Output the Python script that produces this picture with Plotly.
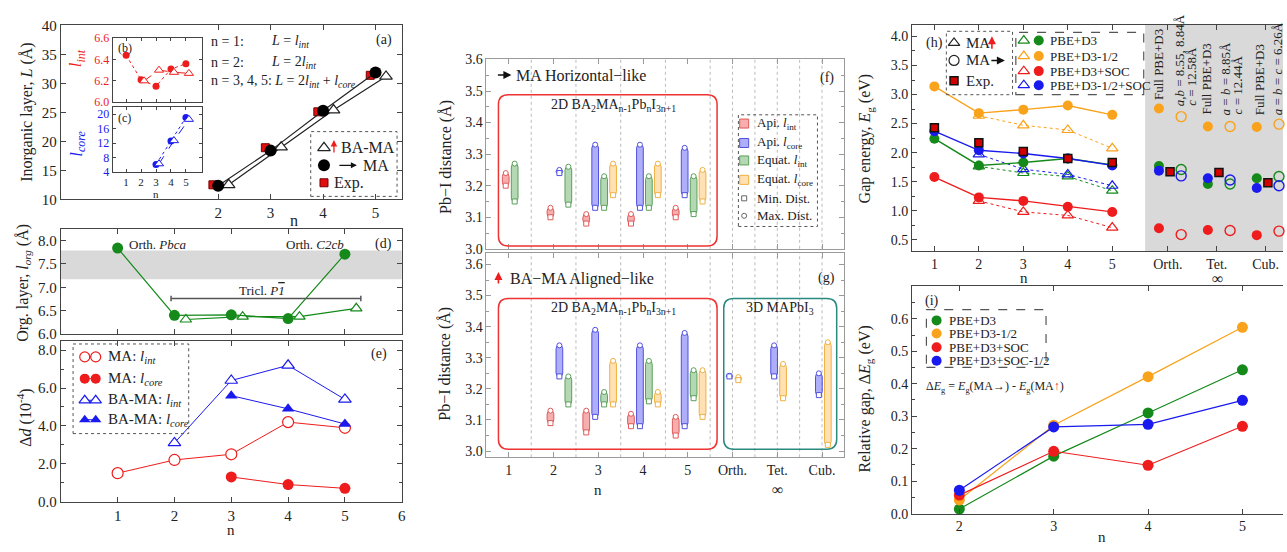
import plotly.graph_objects as go

W, H = 1287, 552
SERIF = "Liberation Serif, Times New Roman, serif"

# ===================== DATA =====================
# (a) inorganic layer thickness L (Å)
a_n = [2, 3, 4, 5]
a_L_ma = [12.35, 18.4, 25.3, 31.9]
a_L_bama = [12.5, 19.0, 25.4, 31.2]
a_L_exp = [12.5, 18.9, 25.1, 31.4]
# (b) l_int (Å)
b_n_ma = [1, 2, 3, 4, 5]
b_lint_ma = [6.44, 6.21, 6.15, 6.31, 6.36]
b_n_bama = [2, 3, 4, 5]
b_lint_bama = [6.20, 6.30, 6.28, 6.27]
# (c) l_core (Å)
c_n = [3, 4, 5]
c_lcore_ma = [6.1, 12.6, 19.1]
c_lcore_bama = [6.3, 12.7, 18.6]
# (d) organic layer l_org (Å)
d_n_ma = [1, 2, 3, 4, 5]
d_lorg_ma = [7.84, 6.40, 6.41, 6.33, 7.71]
d_n_bama = [2, 3, 4, 5]
d_lorg_bama = [6.31, 6.37, 6.37, 6.55]
d_band = [7.17, 7.79]
d_tricl_span = [1.94, 5.28]
d_tricl_level = 6.76
# (e) Δd (1e-4)
e_n_ma_int = [1, 2, 3, 4, 5]
e_ma_int = [1.5, 2.2, 2.5, 4.2, 3.9]
e_n_core = [3, 4, 5]
e_ma_core = [1.3, 0.9, 0.7]
e_n_bama_int = [2, 3, 4, 5]
e_bama_int = [3.1, 6.4, 7.2, 5.4]
e_bama_core = [5.6, 4.9, 4.1]
# (f)/(g) Pb–I distances (Å), min / max per category
pb_categories = ['1', '2', '3', '4', '5', 'Orth.', 'Tet.', 'Cub.']
f_api_int_min = [3.20, 3.10, 3.08, 3.08, 3.10, None, None, None]
f_api_int_max = [3.24, 3.13, 3.11, 3.11, 3.13, None, None, None]
f_api_core_min = [None, 3.24, 3.13, 3.13, 3.17, None, None, None]
f_api_core_max = [None, 3.25, 3.33, 3.33, 3.32, None, None, None]
f_eq_int_min = [3.15, 3.14, 3.13, 3.13, 3.11, None, None, None]
f_eq_int_max = [3.27, 3.26, 3.23, 3.23, 3.23, None, None, None]
f_eq_core_min = [None, None, 3.17, 3.17, 3.15, None, None, None]
f_eq_core_max = [None, None, 3.27, 3.27, 3.25, None, None, None]
g_api_int_min = [None, 3.09, 3.06, 3.08, 3.05, None, None, None]
g_api_int_max = [None, 3.13, 3.13, 3.12, 3.11, None, None, None]
g_api_core_min = [None, 3.24, 3.11, 3.08, 3.08, 3.240, 3.24, 3.18]
g_api_core_max = [None, 3.34, 3.39, 3.34, 3.38, 3.242, 3.34, 3.25]
g_eq_int_min = [None, 3.15, 3.15, 3.16, 3.17, None, None, None]
g_eq_int_max = [None, 3.24, 3.19, 3.29, 3.26, None, None, None]
g_eq_core_min = [None, None, 3.15, 3.15, 3.11, 3.228, 3.17, 3.02]
g_eq_core_max = [None, None, 3.29, 3.19, 3.26, 3.238, 3.28, 3.35]
# (h) band gaps (eV)
h_n = [1, 2, 3, 4, 5]
h_n_al = [2, 3, 4, 5]
h_pbe_hor = [2.24, 1.78, 1.83, 1.90, 1.79]
h_pbe_al = [1.765, 1.65, 1.59, 1.345]
h_half_hor = [3.14, 2.68, 2.74, 2.81, 2.65]
h_half_al = [2.635, 2.47, 2.39, 2.075]
h_soc_hor = [1.58, 1.23, 1.17, 1.07, 0.98]
h_soc_al = [1.17, 0.98, 0.92, 0.71]
h_halfsoc_hor = [2.37, 2.04, 1.985, 1.90, 1.78]
h_halfsoc_al = [1.97, 1.715, 1.625, 1.43]
h_exp = [2.43, 2.17, 2.02, 1.90, 1.83]
h_bulk = ['Orth.', 'Tet.', 'Cub.']
h3_pbe_full = [1.77, 1.46, 1.56]
h3_half_full = [2.76, 2.45, 2.44]
h3_soc_full = [0.70, 0.67, 0.58]
h3_halfsoc_full = [1.69, 1.56, 1.39]
h3_pbe_fix = [1.71, 1.46, 1.59]
h3_half_fix = [2.62, 2.45, 2.49]
h3_soc_fix = [0.59, 0.66, 0.65]
h3_halfsoc_fix = [1.60, 1.53, 1.43]
h3_exp = [1.67, 1.66, 1.48]
h3_lattice = [['Full PBE+D3', '<i>a</i>,<i>b</i> = 8.55, 8.84Å', '<i>c</i> = 12.58Å'],
              ['Full PBE+D3', '<i>a</i> = <i>b</i> = 8.85Å', '<i>c</i> = 12.44Å'],
              ['Full PBE+D3', '<i>a</i> = <i>b</i> = <i>c</i> = 6.26Å']]
# (i) relative gap (eV)
i_n = [2, 3, 4, 5]
i_pbe = [0.014, 0.177, 0.31, 0.443]
i_half = [0.042, 0.272, 0.422, 0.574]
i_soc = [0.057, 0.192, 0.149, 0.269]
i_halfsoc = [0.072, 0.267, 0.275, 0.349]

# ===================== STYLE / LAYOUT =====================
GREEN, ORANGE, RED, BLUE = '#15891a', '#f9a21b', '#ee1c1c', '#1a1aee'
AXC = '#444'
BULK_POS = [6.25, 7.35, 8.45]   # x positions of bulk phases in (h)


def X(p):
    return p / W


def Y(p):
    return 1 - p / H


def dx(a, b):
    return [a / W, b / W]


def dy(top, bot):
    return [1 - bot / H, 1 - top / H]


def axis(domain, rng, anchor, size=14, color='#222', line=AXC, mirror='ticks', **kw):
    d = dict(domain=domain, range=rng, anchor=anchor, showline=True, linecolor=line,
             linewidth=1, mirror=mirror, ticks='inside', ticklen=5, tickcolor=line,
             showgrid=False, zeroline=False,
             tickfont=dict(family=SERIF, size=size, color=color))
    d.update(kw)
    return d


traces = []


def sc(x, y, i, **kw):
    traces.append(go.Scatter(x=x, y=y, xaxis='x' if i == 1 else f'x{i}',
                             yaxis='y' if i == 1 else f'y{i}', showlegend=False,
                             hoverinfo='skip', cliponaxis=False, **kw))


def shift(xs, d):
    return [v + d for v in xs]


# ---- (a)
sc(shift(a_n, 0.2), a_L_bama, 1, mode='lines+markers', line=dict(color='#222', width=1.2),
   marker=dict(symbol='triangle-up', size=11, color='white', line=dict(color='#222', width=1.2)))
sc(shift(a_n, -0.1), a_L_exp, 1, mode='markers',
   marker=dict(symbol='square', size=8, color='#e01010', line=dict(color='#700', width=1)))
sc(a_n, a_L_ma, 1, mode='lines+markers', line=dict(color='#222', width=1.2),
   marker=dict(symbol='circle', size=12, color='black'))
# ---- (b)
sc(b_n_ma, b_lint_ma, 2, mode='lines+markers', line=dict(color=RED, width=1, dash='dot'),
   marker=dict(size=7, color=RED))
sc(shift(b_n_bama, 0.2), b_lint_bama, 2, mode='lines+markers', line=dict(color=RED, width=1, dash='dash'),
   marker=dict(symbol='triangle-up', size=8, color='white', line=dict(color=RED, width=1)))
# ---- (c)
sc(c_n, c_lcore_ma, 3, mode='lines+markers', line=dict(color=BLUE, width=1, dash='dot'),
   marker=dict(size=7, color=BLUE))
sc(shift(c_n, 0.2), c_lcore_bama, 3, mode='lines+markers', line=dict(color=BLUE, width=1, dash='dash'),
   marker=dict(symbol='triangle-up', size=8, color='white', line=dict(color=BLUE, width=1)))
# ---- (d)
sc(shift(d_n_bama, 0.2), d_lorg_bama, 4, mode='lines+markers', line=dict(color=GREEN, width=1.2),
   marker=dict(symbol='triangle-up', size=10, color='white', line=dict(color=GREEN, width=1.2)))
sc(d_n_ma, d_lorg_ma, 4, mode='lines+markers', line=dict(color=GREEN, width=1.2),
   marker=dict(size=11, color=GREEN))
# ---- (e)
sc(e_n_ma_int, e_ma_int, 5, mode='lines+markers', line=dict(color=RED, width=1),
   marker=dict(size=11, color='white', line=dict(color=RED, width=1.2)))
sc(e_n_core, e_ma_core, 5, mode='lines+markers', line=dict(color=RED, width=1),
   marker=dict(size=11, color=RED))
sc(e_n_bama_int, e_bama_int, 5, mode='lines+markers', line=dict(color=BLUE, width=1),
   marker=dict(symbol='triangle-up', size=11, color='white', line=dict(color=BLUE, width=1.2)))
sc(e_n_core, e_bama_core, 5, mode='lines+markers', line=dict(color=BLUE, width=1),
   marker=dict(symbol='triangle-up', size=11, color=BLUE))

# ---- (f)/(g) floating capsule bars
bar_styles = [('rgba(240,120,120,0.6)', '#e05a5a'),   # Api l_int
              ('rgba(120,120,245,0.6)', '#5050e0'),   # Api l_core
              ('rgba(130,190,130,0.6)', '#5aa05a'),   # Equat l_int
              ('rgba(255,205,130,0.6)', '#f0b040')]   # Equat l_core


def floating(series, axi):
    xs = {k: [] for k in range(4)}
    for ci in range(len(pb_categories)):
        present = [k for k in range(4) if series[k][0][ci] is not None]
        start = 0 if len(present) == 4 else 1
        for j, k in enumerate(present):
            xs[k].append((ci, ci + 1 - 0.27 + 0.2 * (start + j)))
    for k in range(4):
        mn, mx = series[k]
        fill, edge = bar_styles[k]
        pos = [p for _, p in xs[k]]
        lo = [mn[ci] for ci, _ in xs[k]]
        hi = [mx[ci] for ci, _ in xs[k]]
        traces.append(go.Bar(x=pos, y=[h - l for h, l in zip(hi, lo)], base=lo, width=0.15,
                             xaxis=f'x{axi}', yaxis=f'y{axi}', showlegend=False, hoverinfo='skip',
                             marker=dict(color=fill, line=dict(color=edge, width=1), cornerradius='50%')))
        sc(pos, hi, axi, mode='markers', marker=dict(symbol='circle', size=5, color='white',
                                                      line=dict(color=edge, width=1)))
        sc(pos, lo, axi, mode='markers', marker=dict(symbol='square', size=5, color='white',
                                                      line=dict(color=edge, width=1)))


floating([(f_api_int_min, f_api_int_max), (f_api_core_min, f_api_core_max),
          (f_eq_int_min, f_eq_int_max), (f_eq_core_min, f_eq_core_max)], 6)
floating([(g_api_int_min, g_api_int_max), (g_api_core_min, g_api_core_max),
          (g_eq_int_min, g_eq_int_max), (g_eq_core_min, g_eq_core_max)], 7)

# ---- (h)
h_sets = [(GREEN, h_pbe_hor, h_pbe_al, h3_pbe_full, h3_pbe_fix),
          (ORANGE, h_half_hor, h_half_al, h3_half_full, h3_half_fix),
          (RED, h_soc_hor, h_soc_al, h3_soc_full, h3_soc_fix),
          (BLUE, h_halfsoc_hor, h_halfsoc_al, h3_halfsoc_full, h3_halfsoc_fix)]
for col, hor, al, full, fix in h_sets:
    sc(h_n_al, al, 8, mode='lines+markers', line=dict(color=col, width=1, dash='dot'),
       marker=dict(symbol='triangle-up-open', size=10, color=col, line=dict(width=1.2)))
for col, hor, al, full, fix in h_sets:
    sc(h_n, hor, 8, mode='lines+markers', line=dict(color=col, width=1.4),
       marker=dict(size=10, color=col))
    sc(shift(BULK_POS, -0.2), full, 8, mode='markers', marker=dict(size=10, color=col))
    sc(shift(BULK_POS, 0.3), fix, 8, mode='markers',
       marker=dict(symbol='circle-open', size=10, color=col, line=dict(width=1.4)))
sc(h_n, h_exp, 8, mode='markers',
   marker=dict(symbol='square', size=8, color='#d40000', line=dict(color='#111', width=1.5)))
sc(shift(BULK_POS, 0.05), h3_exp, 8, mode='markers',
   marker=dict(symbol='square', size=8, color='#d40000', line=dict(color='#111', width=1.5)))

# ---- (i)
for col, vals in [(GREEN, i_pbe), (ORANGE, i_half), (RED, i_soc), (BLUE, i_halfsoc)]:
    sc(i_n, vals, 9, mode='lines+markers', line=dict(color=col, width=1.2),
       marker=dict(size=11, color=col))

# ---- legend symbols on an overlay pixel axis (index 10)
def lg(x, y, **kw):
    sc(x, y, 10, **kw)


lg([325], [144], mode='markers', marker=dict(symbol='triangle-up', size=11, color='white', line=dict(color='#222', width=1.2)))
lg([325], [162], mode='markers', marker=dict(size=12, color='black'))
lg([325], [180], mode='markers', marker=dict(symbol='square', size=8, color='#e01010', line=dict(color='#700', width=1)))
e_leg = [(dict(size=10, color='white', line=dict(color=RED, width=1.2)), RED),
         (dict(size=10, color=RED), RED),
         (dict(symbol='triangle-up', size=10, color='white', line=dict(color=BLUE, width=1.2)), BLUE),
         (dict(symbol='triangle-up', size=10, color=BLUE), BLUE)]
for (mk, col), yy in zip(e_leg, [359.3, 381.7, 404, 424]):
    lg([85, 96], [yy, yy], mode='lines+markers', line=dict(color=col, width=1), marker=mk)
f_leg_y = [119, 139, 157, 177, 196, 214]
for k in range(4):
    lg([746.5], [f_leg_y[k]], mode='markers', marker=dict(symbol='square', size=9, color=bar_styles[k][0],
                                                           line=dict(color=bar_styles[k][1], width=1)))
lg([746.5], [f_leg_y[4]], mode='markers', marker=dict(symbol='square-open', size=5, color='#666'))
lg([746.5], [f_leg_y[5]], mode='markers', marker=dict(symbol='circle-open', size=5, color='#666'))
lg([957], [36], mode='markers', marker=dict(symbol='triangle-up-open', size=10, color='#222', line=dict(width=1.2)))
lg([957], [54], mode='markers', marker=dict(symbol='circle-open', size=10, color='#222', line=dict(width=1.2)))
lg([957], [75], mode='markers', marker=dict(symbol='square', size=8, color='#d40000', line=dict(color='#111', width=1.5)))
for col, yy in zip([GREEN, ORANGE, RED, BLUE], [33.5, 49.5, 65, 79.5]):
    lg([1027], [yy], mode='markers', marker=dict(symbol='triangle-up-open', size=10, color=col, line=dict(width=1.2)))
    lg([1042], [yy], mode='markers', marker=dict(size=10, color=col))
for col, yy in zip([GREEN, ORANGE, RED, BLUE], [321.7, 335.3, 349.3, 363.3]):
    lg([939.5], [yy], mode='markers', marker=dict(size=10, color=col))

fig = go.Figure(traces)

# ===================== AXES =====================
lay = dict(width=W, height=H, margin=dict(l=0, r=0, t=0, b=0), paper_bgcolor='white',
           plot_bgcolor='rgba(0,0,0,0)', barmode='overlay', showlegend=False,
           font=dict(family=SERIF, size=14, color='#222'))
lay['xaxis'] = axis(dx(61, 403), [-1, 5.5], 'y', size=15, tickvals=[2, 3, 4, 5])
lay['yaxis'] = axis(dy(18, 197), [10, 40], 'x', size=15, tickvals=[10, 15, 20, 25, 30, 35, 40])
lay['xaxis2'] = axis(dx(113, 203), [0.1, 6.1], 'y2', tickvals=[1, 2, 3, 4, 5], showticklabels=False, ticklen=3)
lay['yaxis2'] = axis(dy(31, 97), [6.0, 6.6], 'x2', size=12, color=RED, tickvals=[6.0, 6.2, 6.4, 6.6],
                     tickformat='.1f', ticklen=3)
lay['xaxis3'] = axis(dx(113, 203), [0.1, 6.1], 'y3', size=11, tickvals=[1, 2, 3, 4, 5], ticklen=3)
lay['yaxis3'] = axis(dy(102, 169), [4, 22], 'x3', size=12, color=BLUE, tickvals=[4, 8, 12, 16, 20], ticklen=3)
lay['xaxis4'] = axis(dx(61, 403), [0, 6], 'y4', tickvals=[1, 2, 3, 4, 5], showticklabels=False)
lay['yaxis4'] = axis(dy(228, 335.7), [6.0, 8.24], 'x4', size=15, tickvals=[6.0, 6.5, 7.0, 7.5, 8.0],
                     tickformat='.1f')
lay['xaxis5'] = axis(dx(61, 403), [0, 6], 'y5', size=15, tickvals=[1, 2, 3, 4, 5, 6])
lay['yaxis5'] = axis(dy(342.7, 508.3), [0, 8.5], 'x5', size=15, tickvals=[0, 2, 4, 6, 8], tickformat='.1f',
                     minor=dict(ticks='inside', ticklen=3, dtick=1, tickcolor=AXC))
GR = '#9a9a9a'
lay['xaxis6'] = axis(dx(488, 847), [0.5, 8.5], 'y6', line=GR, tickvals=list(range(1, 9)), showticklabels=False)
lay['yaxis6'] = axis(dy(53, 248), [3.0, 3.6], 'x6', line=GR, tickvals=[3.0, 3.1, 3.2, 3.3, 3.4, 3.5, 3.6],
                     tickformat='.1f', minor=dict(ticks='inside', ticklen=3, dtick=0.05, tickcolor=GR))
lay['xaxis7'] = axis(dx(488, 847), [0.5, 8.5], 'y7', line=GR, tickvals=list(range(1, 9)), ticktext=pb_categories)
lay['yaxis7'] = axis(dy(252.3, 462.7), [2.98, 3.637], 'x7', line=GR, tickvals=[3.0, 3.1, 3.2, 3.3, 3.4, 3.5, 3.6],
                     tickformat='.1f', minor=dict(ticks='inside', ticklen=3, dtick=0.05, tickcolor=GR))
lay['xaxis8'] = axis(dx(915, 1287), [0.5, 8.84], 'y8', tickvals=h_n + BULK_POS, ticktext=[str(v) for v in h_n] + h_bulk)
lay['yaxis8'] = axis(dy(17.3, 250.7), [0.3, 4.2], 'x8', mirror=False,
                     tickvals=[0.5, 1.0, 1.5, 2.0, 2.5, 3.0, 3.5, 4.0], tickformat='.1f',
                     minor=dict(ticks='inside', ticklen=3, dtick=0.25, tickcolor=AXC))
lay['xaxis9'] = axis(dx(915, 1287), [1.5, 5.43], 'y9', tickvals=i_n)
lay['yaxis9'] = axis(dy(286.7, 520.7), [0, 0.70], 'x9', mirror=False,
                     tickvals=[0, 0.1, 0.2, 0.3, 0.4, 0.5, 0.6], tickformat='.1f',
                     minor=dict(ticks='inside', ticklen=3, dtick=0.05, tickcolor=AXC))
lay['xaxis10'] = dict(domain=[0, 1], range=[0, W], anchor='y10', visible=False, fixedrange=True)
lay['yaxis10'] = dict(domain=[0, 1], range=[H, 0], anchor='x10', visible=False, fixedrange=True)
fig.update_layout(**lay)

# ===================== SHAPES =====================
shapes = []


def prect(x0, y0, x1, y1, dash='dot', color='#555', width=1):
    shapes.append(dict(type='rect', xref='paper', yref='paper', x0=X(x0), x1=X(x1), y0=Y(y1), y1=Y(y0),
                       line=dict(color=color, width=width, dash=dash), fillcolor='rgba(0,0,0,0)'))


def rrect(x0, y0, x1, y1, r, color):
    p = (f"M {X(x0 + r)},{Y(y0)} L {X(x1 - r)},{Y(y0)} Q {X(x1)},{Y(y0)} {X(x1)},{Y(y0 + r)} "
         f"L {X(x1)},{Y(y1 - r)} Q {X(x1)},{Y(y1)} {X(x1 - r)},{Y(y1)} L {X(x0 + r)},{Y(y1)} "
         f"Q {X(x0)},{Y(y1)} {X(x0)},{Y(y1 - r)} L {X(x0)},{Y(y0 + r)} Q {X(x0)},{Y(y0)} {X(x0 + r)},{Y(y0)} Z")
    shapes.append(dict(type='path', xref='paper', yref='paper', path=p, line=dict(color=color, width=1.5)))


# (d) gray band and triclinic bracket
shapes.append(dict(type='rect', xref='x4 domain', yref='y4', x0=0, x1=1, y0=d_band[0], y1=d_band[1],
                   fillcolor='#d9d9d9', line=dict(width=0), layer='below'))
shapes.append(dict(type='line', xref='x4', yref='y4', x0=d_tricl_span[0], x1=d_tricl_span[1],
                   y0=d_tricl_level, y1=d_tricl_level, line=dict(color='#555', width=1.5)))
for xe in d_tricl_span:
    shapes.append(dict(type='line', xref='x4', yref='y4', x0=xe, x1=xe, y0=d_tricl_level - 0.06,
                       y1=d_tricl_level + 0.06, line=dict(color='#555', width=1.5)))
# (f)/(g) dotted separators
for ax in ['6', '7']:
    for xv in [1.5, 2.5, 3.5, 4.5, 5.5, 6, 6.5, 7, 7.5, 8]:
        shapes.append(dict(type='line', xref=f'x{ax}', yref=f'y{ax} domain', x0=xv, x1=xv, y0=0, y1=1,
                           line=dict(color='#bbb', width=1, dash='dot'), layer='below'))
# (h) bulk gray region
shapes.append(dict(type='rect', xref='x8', yref='y8 domain', x0=5.74, x1=8.84, y0=0, y1=1,
                   fillcolor='#d9d9d9', line=dict(width=0), layer='below'))
# legend boxes
prect(311.7, 127.3, 398.3, 194)
prect(73.3, 346, 189.3, 438.3)
prect(740.7, 110, 820, 225)
prect(949.3, 24, 1015.7, 89.3)
prect(1019, 25, 1147.3, 89.3, dash='dash', width=1.2)
prect(929.3, 310.7, 1049.3, 370, dash='dash', width=1.2)
# rounded boxes
rrect(500, 89.3, 719.3, 245, 10, '#ee3333')
rrect(500, 299.3, 719.3, 454.3, 10, '#ee3333')
rrect(726, 299.3, 839.3, 454.3, 10, '#2a8a80')
fig.update_layout(shapes=shapes)

# ===================== TEXT =====================
anns = []


def T(x, y, text, size=14, color='#222', xa='center', ya='middle', angle=0):
    anns.append(dict(xref='paper', yref='paper', x=X(x), y=Y(y), text=text, showarrow=False,
                     xanchor=xa, yanchor=ya, textangle=angle,
                     font=dict(family=SERIF, size=size, color=color)))


def ARW(x_head, y_head, ax, ay, color='#111', width=1.3, head=2):
    anns.append(dict(xref='paper', yref='paper', x=X(x_head), y=Y(y_head), text='', showarrow=True,
                     ax=ax, ay=ay, arrowhead=head, arrowsize=1, arrowwidth=width, arrowcolor=color))


LI = '<i>l</i><sub><i>int</i></sub>'
LC = '<i>l</i><sub><i>core</i></sub>'
# (a)
T(27, 107, 'Inorganic layer, <i>L</i> (Å)', size=16, angle=-90)
T(295, 219, 'n', size=16)
T(385, 33, '(a)', size=14)
T(210, 35, 'n = 1:', size=14, xa='left')
T(270, 35, f'<i>L</i> = {LI}', size=14, xa='left')
T(210, 56, 'n = 2:', size=14, xa='left')
T(270, 56, f'<i>L</i> = 2{LI}', size=14, xa='left')
T(210, 76, f'n = 3, 4, 5: <i>L</i> = 2{LI} + {LC}', size=14, xa='left')
T(340, 144, 'BA-MA', size=16, xa='left')
ARW(335, 136, 0, 14, color=RED, width=1.3)
ARW(358, 162, -19, 0, color='#111', width=1.2)
T(362, 162, 'MA', size=16, xa='left')
T(333, 180, 'Exp.', size=16, xa='left')
# (b),(c)
T(125, 41.5, '(b)', size=12)
T(125, 113, '(c)', size=12)
T(156, 192, 'n', size=11)
T(78, 52, '<i>l</i><sub><i>int</i></sub>', size=17, color=RED, angle=-90)
T(78, 140, '<i>l</i><sub><i>core</i></sub>', size=17, color=BLUE, angle=-90)
# (d)
T(24, 283, 'Org. layer, <i>l</i><sub><i>org</i></sub> (Å)', size=16, angle=-90)
T(127, 243.3, 'Orth. <i>Pbca</i>', size=13, xa='left')
T(285, 243.3, 'Orth. <i>C2cb</i>', size=13, xa='left')
T(263, 291, 'Tricl. <i>P</i><span style="text-decoration:overline"><i>1</i></span>', size=13)
T(385, 243.3, '(d)', size=14)
# (e)
T(25, 422, 'Δ<i>d</i> (10<sup>-4</sup>)', size=16, angle=-90)
T(232, 538, 'n', size=15)
T(380, 356.7, '(e)', size=14)
for txt, yy in zip([f'MA: {LI}', f'MA: {LC}', f'BA-MA: {LI}', f'BA-MA: {LC}'], [359.3, 381.7, 404, 424]):
    T(106.7, yy, txt, size=15, xa='left')
# (f)/(g)
T(446.7, 153, 'Pb−I distance (Å)', size=16, angle=-90)
T(446.7, 366, 'Pb−I distance (Å)', size=16, angle=-90)
ARW(513, 69, -15, 0, color='#111', width=1.6)
T(516, 69, 'MA Horizontal−like', size=16, xa='left')
ARW(500, 272, 0, 13, color=RED, width=1.6)
T(510, 279, 'BA−MA Aligned−like', size=16, xa='left')
T(615, 100, '2D BA<sub>2</sub>MA<sub>n-1</sub>Pb<sub>n</sub>I<sub>3n+1</sub>', size=14)
T(615, 309, '2D BA<sub>2</sub>MA<sub>n-1</sub>Pb<sub>n</sub>I<sub>3n+1</sub>', size=14)
T(782, 309, '3D MAPbI<sub>3</sub>', size=14)
T(830, 72.3, '(f)', size=14)
T(829, 278.3, '(g)', size=14)
T(600, 496, 'n', size=15)
T(780, 496, '∞', size=16)
for txt, yy in zip(['Api. <i>l</i><sub>int</sub>', 'Api. <i>l</i><sub>core</sub>', 'Equat. <i>l</i><sub>int</sub>',
                    'Equat. <i>l</i><sub>core</sub>', 'Min. Dist.', 'Max. Dist.'], f_leg_y):
    T(757.5, yy, txt, size=13, xa='left')
# (h)
T(868, 134, 'Gap energy, <i>E</i><sub>g</sub> (eV)', size=16, angle=-90)
T(1027, 278, 'n', size=15)
T(1221, 279, '∞', size=16)
T(937, 36, '(h)', size=14)
T(967, 36, 'MA', size=15, xa='left')
ARW(995, 29, 0, 14, color=RED, width=1.6)
T(967, 54, 'MA', size=15, xa='left')
ARW(1008, 54, -15, 0, color='#111', width=1.6)
T(967, 75, 'Exp.', size=15, xa='left')
for txt, yy in zip(['PBE+D3', 'PBE+D3-1/2', 'PBE+D3+SOC', 'PBE+D3-1/2+SOC'], [33.5, 49.5, 65, 79.5]):
    T(1051, yy, txt, size=13, xa='left')
lat_x = [[1162, 1183, 1195], [1210, 1229, 1241], [1263, 1281]]
lat_b = [[97, 103, 103], [112, 113, 112], [113, 113]]
for texts, xs_, bs in zip(h3_lattice, lat_x, lat_b):
    for txt, xx, bb in zip(texts, xs_, bs):
        T(xx, bb, txt, size=13, ya='bottom', angle=-90)
# (i)
T(868, 403, 'Relative gap, Δ<i>E</i><sub>g</sub> (eV)', size=16, angle=-90)
T(1105, 545, 'n', size=15)
T(935, 301.7, '(i)', size=14)
for txt, yy in zip(['PBE+D3', 'PBE+D3-1/2', 'PBE+D3+SOC', 'PBE+D3+SOC-1/2'], [321.7, 335.3, 349.3, 363.3]):
    T(950, yy, txt, size=13, xa='left')
T(927, 390, 'Δ<i>E</i><sub>g</sub> = <i>E</i><sub>g</sub>(MA→) - <i>E</i><sub>g</sub>(MA<span style="color:#ee1c1c">↑</span>)',
  size=12, xa='left')

fig.update_layout(annotations=anns)
fig.write_html("out.html", config={'displayModeBar': False},
               post_script="document.body.style.margin='0';document.body.style.overflow='hidden';")
